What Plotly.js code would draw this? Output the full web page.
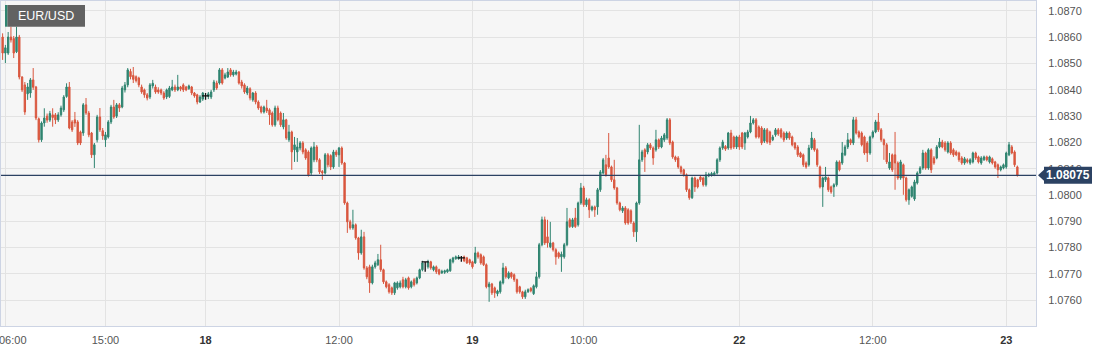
<!DOCTYPE html>
<html>
<head>
<meta charset="utf-8">
<script src="https://cdn.plot.ly/plotly-3.0.1.min.js"></script>
<style>
  html, body { margin: 0; padding: 0; background: #ffffff; }
  #chart { width: 1107px; height: 352px; }
</style>
</head>
<body>
<div id="chart"></div>
<script>
// ---- data: EUR/USD 15-minute candles, index 0 = 17th 05:45 ----
const symbol = 'EUR/USD';

const openP = [
1.08601,1.08540,1.08540,1.08601,1.08595,1.08545,1.08601,1.08449,1.08419,1.08385,
1.08388,1.08438,1.08411,1.08290,1.08210,1.08274,1.08300,1.08285,1.08305,1.08305,
1.08286,1.08305,1.08324,1.08375,1.08411,1.08278,1.08286,1.08278,1.08240,1.08236,
1.08343,1.08312,1.08236,1.08153,1.08210,1.08297,1.08245,1.08210,1.08221,1.08278,
1.08335,1.08300,1.08343,1.08335,1.08400,1.08419,1.08470,1.08455,1.08450,1.08445,
1.08411,1.08400,1.08381,1.08373,1.08415,1.08411,1.08400,1.08400,1.08388,1.08373,
1.08375,1.08400,1.08411,1.08400,1.08411,1.08419,1.08411,1.08405,1.08411,1.08388,
1.08381,1.08354,1.08365,1.08377,1.08375,1.08373,1.08400,1.08426,1.08426,1.08476,
1.08445,1.08449,1.08476,1.08457,1.08460,1.08468,1.08430,1.08419,1.08388,1.08404,
1.08362,1.08388,1.08354,1.08335,1.08316,1.08331,1.08324,1.08312,1.08267,1.08331,
1.08312,1.08259,1.08286,1.08210,1.08240,1.08172,1.08164,1.08179,1.08198,1.08172,
1.08164,1.08084,1.08134,1.08183,1.08134,1.08090,1.08084,1.08153,1.08150,1.08107,
1.08164,1.08153,1.08179,1.08122,1.07970,1.07898,1.07875,1.07887,1.07837,1.07780,
1.07841,1.07723,1.07727,1.07666,1.07727,1.07735,1.07754,1.07716,1.07670,1.07659,
1.07647,1.07628,1.07647,1.07651,1.07678,1.07651,1.07685,1.07651,1.07678,1.07666,
1.07685,1.07716,1.07746,1.07727,1.07746,1.07716,1.07727,1.07716,1.07704,1.07706,
1.07708,1.07712,1.07746,1.07758,1.07758,1.07761,1.07765,1.07761,1.07754,1.07746,
1.07742,1.07780,1.07773,1.07765,1.07735,1.07651,1.07662,1.07647,1.07625,1.07632,
1.07666,1.07723,1.07685,1.07704,1.07697,1.07678,1.07651,1.07632,1.07613,1.07632,
1.07645,1.07625,1.07651,1.07689,1.07811,1.07906,1.07841,1.07803,1.07818,1.07792,
1.07780,1.07765,1.07765,1.07811,1.07906,1.07880,1.07913,1.07887,1.07970,1.08027,
1.07963,1.07982,1.07944,1.07955,1.07955,1.08020,1.08084,1.08115,1.08141,1.08107,
1.08058,1.08027,1.07970,1.07940,1.07951,1.07944,1.07940,1.07894,1.07860,1.07970,
1.08134,1.08172,1.08164,1.08191,1.08179,1.08172,1.08210,1.08183,1.08210,1.08217,
1.08286,1.08202,1.08145,1.08141,1.08107,1.08096,1.08077,1.08020,1.07990,1.08065,
1.08058,1.08069,1.08065,1.08039,1.08073,1.08075,1.08077,1.08084,1.08134,1.08179,
1.08185,1.08179,1.08236,1.08221,1.08183,1.08221,1.08236,1.08198,1.08221,1.08240,
1.08274,1.08286,1.08259,1.08255,1.08205,1.08248,1.08240,1.08210,1.08229,1.08248,
1.08248,1.08236,1.08217,1.08236,1.08221,1.08198,1.08183,1.08160,1.08153,1.08122,
1.08115,1.08179,1.08210,1.08172,1.08107,1.08031,1.08058,1.08065,1.08031,1.08031,
1.08039,1.08126,1.08122,1.08153,1.08183,1.08210,1.08198,1.08286,1.08240,1.08236,
1.08221,1.08198,1.08160,1.08221,1.08240,1.08278,1.08248,1.08210,1.08191,1.08103,
1.08153,1.08153,1.08122,1.08065,1.08115,1.08065,1.07982,1.07995,1.07985,1.08046,
1.08084,1.08103,1.08160,1.08103,1.08172,1.08141,1.08141,1.08183,1.08202,1.08198,
1.08164,1.08198,1.08172,1.08164,1.08160,1.08141,1.08122,1.08134,1.08122,1.08126,
1.08160,1.08145,1.08122,1.08134,1.08145,1.08126,1.08138,1.08126,1.08115,1.08096,
1.08103,1.08107,1.08153,1.08183,1.08164,1.08107
];

const highP = [
1.08615,1.08571,1.08620,1.08640,1.08605,1.08640,1.08609,1.08452,1.08430,1.08426,
1.08445,1.08483,1.08415,1.08295,1.08280,1.08330,1.08310,1.08320,1.08330,1.08312,
1.08315,1.08340,1.08380,1.08425,1.08430,1.08285,1.08316,1.08285,1.08245,1.08350,
1.08369,1.08320,1.08240,1.08198,1.08305,1.08331,1.08255,1.08240,1.08285,1.08343,
1.08362,1.08350,1.08350,1.08415,1.08430,1.08483,1.08480,1.08487,1.08455,1.08450,
1.08420,1.08405,1.08388,1.08426,1.08438,1.08420,1.08410,1.08405,1.08395,1.08405,
1.08415,1.08438,1.08420,1.08457,1.08415,1.08425,1.08415,1.08420,1.08415,1.08392,
1.08385,1.08380,1.08392,1.08388,1.08392,1.08400,1.08438,1.08435,1.08483,1.08483,
1.08465,1.08483,1.08483,1.08476,1.08476,1.08472,1.08438,1.08425,1.08415,1.08410,
1.08392,1.08395,1.08360,1.08340,1.08340,1.08362,1.08330,1.08318,1.08340,1.08340,
1.08318,1.08312,1.08290,1.08267,1.08245,1.08221,1.08217,1.08205,1.08205,1.08178,
1.08170,1.08185,1.08202,1.08190,1.08140,1.08095,1.08160,1.08160,1.08155,1.08172,
1.08172,1.08183,1.08185,1.08126,1.07975,1.07906,1.07944,1.07892,1.07841,1.07868,
1.07860,1.07730,1.07735,1.07735,1.07750,1.07776,1.07811,1.07720,1.07675,1.07665,
1.07652,1.07670,1.07672,1.07675,1.07689,1.07685,1.07690,1.07675,1.07685,1.07690,
1.07720,1.07750,1.07746,1.07754,1.07750,1.07732,1.07732,1.07720,1.07716,1.07716,
1.07720,1.07758,1.07765,1.07770,1.07772,1.07768,1.07770,1.07765,1.07758,1.07750,
1.07803,1.07785,1.07778,1.07770,1.07740,1.07670,1.07666,1.07652,1.07640,1.07675,
1.07742,1.07730,1.07710,1.07708,1.07702,1.07682,1.07655,1.07636,1.07640,1.07645,
1.07650,1.07660,1.07708,1.07818,1.07918,1.07918,1.07906,1.07898,1.07822,1.07798,
1.07785,1.07785,1.07818,1.07951,1.07913,1.07913,1.07951,1.07975,1.08046,1.08035,
1.07990,1.07988,1.07960,1.07960,1.08027,1.08095,1.08141,1.08153,1.08236,1.08112,
1.08134,1.08031,1.07975,1.07958,1.07958,1.07950,1.07946,1.07900,1.07975,1.08267,
1.08172,1.08178,1.08198,1.08198,1.08185,1.08248,1.08215,1.08225,1.08236,1.08293,
1.08293,1.08207,1.08150,1.08148,1.08112,1.08100,1.08082,1.08025,1.08070,1.08070,
1.08062,1.08075,1.08070,1.08088,1.08085,1.08088,1.08090,1.08140,1.08185,1.08210,
1.08190,1.08240,1.08248,1.08226,1.08226,1.08229,1.08240,1.08240,1.08248,1.08301,
1.08293,1.08293,1.08265,1.08262,1.08255,1.08255,1.08245,1.08229,1.08255,1.08255,
1.08255,1.08242,1.08242,1.08242,1.08226,1.08202,1.08190,1.08165,1.08158,1.08128,
1.08191,1.08240,1.08217,1.08178,1.08112,1.08070,1.08107,1.08070,1.08036,1.08045,
1.08132,1.08132,1.08202,1.08191,1.08236,1.08215,1.08297,1.08297,1.08246,1.08242,
1.08226,1.08205,1.08226,1.08246,1.08286,1.08312,1.08255,1.08215,1.08198,1.08160,
1.08158,1.08240,1.08128,1.08134,1.08120,1.08070,1.08025,1.08036,1.08058,1.08090,
1.08110,1.08172,1.08165,1.08178,1.08178,1.08148,1.08190,1.08217,1.08210,1.08205,
1.08205,1.08205,1.08178,1.08170,1.08165,1.08148,1.08145,1.08140,1.08140,1.08165,
1.08165,1.08150,1.08148,1.08150,1.08150,1.08150,1.08143,1.08130,1.08120,1.08112,
1.08120,1.08165,1.08202,1.08190,1.08170,1.08112
];

const lowP = [
1.08514,1.08502,1.08533,1.08580,1.08521,1.08540,1.08440,1.08392,1.08305,1.08362,
1.08370,1.08400,1.08285,1.08200,1.08202,1.08260,1.08275,1.08278,1.08260,1.08270,
1.08278,1.08298,1.08316,1.08370,1.08250,1.08240,1.08259,1.08190,1.08190,1.08225,
1.08305,1.08220,1.08141,1.08103,1.08200,1.08240,1.08210,1.08183,1.08215,1.08270,
1.08290,1.08293,1.08316,1.08330,1.08390,1.08410,1.08440,1.08426,1.08428,1.08410,
1.08385,1.08370,1.08360,1.08365,1.08405,1.08385,1.08385,1.08380,1.08362,1.08365,
1.08369,1.08395,1.08392,1.08395,1.08395,1.08392,1.08395,1.08400,1.08380,1.08370,
1.08345,1.08350,1.08358,1.08362,1.08365,1.08365,1.08392,1.08400,1.08420,1.08420,
1.08440,1.08445,1.08450,1.08450,1.08455,1.08420,1.08405,1.08385,1.08380,1.08360,
1.08355,1.08345,1.08324,1.08310,1.08310,1.08312,1.08267,1.08260,1.08260,1.08280,
1.08259,1.08250,1.08210,1.08202,1.08096,1.08126,1.08126,1.08170,1.08155,1.08134,
1.08070,1.08075,1.08125,1.08125,1.08080,1.08058,1.08078,1.08105,1.08095,1.08100,
1.08145,1.08107,1.08115,1.07963,1.07856,1.07868,1.07868,1.07830,1.07754,1.07773,
1.07716,1.07680,1.07628,1.07660,1.07720,1.07730,1.07708,1.07662,1.07645,1.07625,
1.07620,1.07620,1.07640,1.07645,1.07645,1.07645,1.07640,1.07645,1.07652,1.07660,
1.07680,1.07710,1.07708,1.07720,1.07716,1.07710,1.07700,1.07695,1.07700,1.07700,
1.07704,1.07708,1.07740,1.07754,1.07754,1.07746,1.07745,1.07738,1.07735,1.07720,
1.07738,1.07758,1.07735,1.07730,1.07645,1.07594,1.07620,1.07609,1.07615,1.07625,
1.07660,1.07682,1.07680,1.07682,1.07670,1.07625,1.07625,1.07605,1.07605,1.07628,
1.07630,1.07620,1.07645,1.07682,1.07805,1.07810,1.07800,1.07798,1.07785,1.07735,
1.07758,1.07708,1.07758,1.07805,1.07875,1.07875,1.07875,1.07880,1.07963,1.07955,
1.07955,1.07913,1.07938,1.07917,1.07925,1.08012,1.08078,1.08070,1.08100,1.08050,
1.08020,1.07963,1.07938,1.07932,1.07887,1.07887,1.07890,1.07841,1.07822,1.07963,
1.08126,1.08088,1.08155,1.08172,1.08115,1.08165,1.08175,1.08178,1.08202,1.08210,
1.08190,1.08138,1.08126,1.08100,1.08080,1.08070,1.08012,1.07982,1.07985,1.08012,
1.08025,1.08050,1.08032,1.08032,1.08068,1.08070,1.08072,1.08078,1.08126,1.08172,
1.08168,1.08172,1.08172,1.08175,1.08175,1.08172,1.08175,1.08172,1.08215,1.08235,
1.08268,1.08215,1.08215,1.08190,1.08198,1.08195,1.08190,1.08205,1.08222,1.08225,
1.08215,1.08202,1.08210,1.08210,1.08185,1.08172,1.08145,1.08141,1.08107,1.08100,
1.08108,1.08172,1.08165,1.08107,1.08025,1.07955,1.08050,1.08012,1.08005,1.07993,
1.08032,1.08090,1.08115,1.08148,1.08175,1.08190,1.08190,1.08230,1.08215,1.08185,
1.08153,1.08126,1.08153,1.08215,1.08235,1.08240,1.08202,1.08134,1.08118,1.08096,
1.08088,1.08020,1.08058,1.08058,1.08001,1.07975,1.07963,1.07990,1.07978,1.08040,
1.08080,1.08096,1.08096,1.08096,1.08084,1.08115,1.08136,1.08178,1.08178,1.08165,
1.08158,1.08153,1.08145,1.08148,1.08126,1.08115,1.08115,1.08120,1.08115,1.08120,
1.08134,1.08120,1.08115,1.08130,1.08128,1.08120,1.08116,1.08100,1.08065,1.08090,
1.08098,1.08100,1.08148,1.08155,1.08107,1.08070
];

const closeP = [
1.08540,1.08560,1.08601,1.08590,1.08540,1.08601,1.08449,1.08400,1.08316,1.08411,
1.08438,1.08410,1.08293,1.08210,1.08274,1.08293,1.08285,1.08310,1.08295,1.08286,
1.08305,1.08331,1.08373,1.08411,1.08255,1.08248,1.08274,1.08198,1.08198,1.08343,
1.08312,1.08229,1.08153,1.08191,1.08297,1.08248,1.08225,1.08229,1.08278,1.08335,
1.08297,1.08343,1.08331,1.08407,1.08419,1.08476,1.08450,1.08440,1.08435,1.08419,
1.08392,1.08381,1.08369,1.08419,1.08425,1.08392,1.08392,1.08388,1.08369,1.08400,
1.08407,1.08411,1.08400,1.08411,1.08403,1.08400,1.08400,1.08415,1.08388,1.08377,
1.08354,1.08373,1.08388,1.08377,1.08385,1.08392,1.08430,1.08407,1.08476,1.08426,
1.08457,1.08468,1.08457,1.08468,1.08468,1.08426,1.08415,1.08392,1.08407,1.08369,
1.08388,1.08354,1.08331,1.08316,1.08335,1.08320,1.08305,1.08267,1.08331,1.08286,
1.08267,1.08286,1.08217,1.08240,1.08164,1.08191,1.08183,1.08198,1.08164,1.08141,
1.08077,1.08179,1.08183,1.08134,1.08088,1.08084,1.08153,1.08115,1.08107,1.08164,
1.08153,1.08179,1.08122,1.07970,1.07898,1.07875,1.07887,1.07837,1.07780,1.07841,
1.07723,1.07689,1.07666,1.07727,1.07742,1.07754,1.07716,1.07670,1.07651,1.07632,
1.07628,1.07666,1.07666,1.07666,1.07651,1.07678,1.07647,1.07670,1.07659,1.07685,
1.07716,1.07742,1.07746,1.07746,1.07723,1.07727,1.07708,1.07700,1.07710,1.07712,
1.07716,1.07754,1.07761,1.07765,1.07765,1.07761,1.07750,1.07742,1.07742,1.07727,
1.07780,1.07765,1.07742,1.07735,1.07651,1.07662,1.07628,1.07628,1.07635,1.07670,
1.07723,1.07689,1.07704,1.07689,1.07678,1.07632,1.07632,1.07613,1.07632,1.07640,
1.07636,1.07655,1.07689,1.07811,1.07906,1.07818,1.07818,1.07818,1.07792,1.07765,
1.07765,1.07775,1.07811,1.07898,1.07880,1.07906,1.07880,1.07970,1.08027,1.07963,
1.07982,1.07944,1.07955,1.07944,1.08020,1.08088,1.08134,1.08077,1.08107,1.08058,
1.08027,1.07970,1.07944,1.07951,1.07894,1.07894,1.07898,1.07860,1.07970,1.08134,
1.08164,1.08145,1.08191,1.08179,1.08141,1.08210,1.08183,1.08217,1.08229,1.08286,
1.08198,1.08145,1.08134,1.08107,1.08088,1.08077,1.08020,1.07990,1.08065,1.08031,
1.08031,1.08058,1.08039,1.08077,1.08079,1.08082,1.08084,1.08134,1.08179,1.08202,
1.08175,1.08236,1.08179,1.08183,1.08221,1.08183,1.08183,1.08236,1.08240,1.08274,
1.08286,1.08221,1.08221,1.08198,1.08248,1.08202,1.08200,1.08221,1.08248,1.08232,
1.08221,1.08210,1.08236,1.08217,1.08191,1.08179,1.08153,1.08145,1.08115,1.08107,
1.08179,1.08217,1.08172,1.08115,1.08031,1.08065,1.08069,1.08020,1.08012,1.08039,
1.08126,1.08096,1.08160,1.08183,1.08210,1.08198,1.08286,1.08236,1.08221,1.08191,
1.08160,1.08160,1.08221,1.08240,1.08278,1.08248,1.08210,1.08191,1.08126,1.08126,
1.08096,1.08122,1.08065,1.08126,1.08065,1.07982,1.08020,1.08031,1.08050,1.08084,
1.08103,1.08160,1.08103,1.08172,1.08096,1.08122,1.08183,1.08202,1.08183,1.08172,
1.08198,1.08160,1.08153,1.08153,1.08134,1.08122,1.08138,1.08126,1.08134,1.08160,
1.08141,1.08126,1.08141,1.08145,1.08134,1.08145,1.08122,1.08107,1.08096,1.08107,
1.08115,1.08160,1.08191,1.08160,1.08115,1.08075
];

// candles whose open equals close (drawn as black crosses)
const dojiIdx = [73, 152, 165];

// time axis labels (candle index -> label)
const tickIdx  = [1, 37, 73, 121, 169, 209, 265, 313, 361];
const tickText = ['06:00', '15:00', '18', '12:00', '19', '10:00', '22', '12:00', '23'];
const tickIsDate = [false, false, true, false, true, false, true, false, true];

// ---- styling ----
const GREEN = '#2f8470';
const RED = '#d9573f';
const NAVY = '#2c4263';
const W = 1107, H = 352;
const M = { l: 1, r: 71, t: 1, b: 26 };
const plotW = W - M.l - M.r;
const plotH = H - M.t - M.b;
const pxX = px => (px - M.l) / plotW;           // pixel -> paper x
const pxY = py => (H - M.b - py) / plotH;        // pixel -> paper y
const Y_RANGE = [1.07502, 1.08738];
const X_RANGE = [-0.58, 371.7];
const pxPerPrice = plotH / (Y_RANGE[1] - Y_RANGE[0]);
const FONT = '"Liberation Sans", Arial, sans-serif';

const N = closeP.length;
const all = Array.from({ length: N }, (_, i) => i);
const cIdx = all.filter(i => !dojiIdx.includes(i));

const candles = {
  type: 'candlestick',
  x: cIdx,
  open: cIdx.map(i => openP[i]),
  high: cIdx.map(i => highP[i]),
  low: cIdx.map(i => lowP[i]),
  close: cIdx.map(i => closeP[i]),
  increasing: { line: { color: GREEN, width: 1 }, fillcolor: GREEN },
  decreasing: { line: { color: RED, width: 1 }, fillcolor: RED },
  whiskerwidth: 0,
  hoverinfo: 'skip'
};

const dojis = {
  type: 'ohlc',
  x: dojiIdx,
  open: dojiIdx.map(i => openP[i]),
  high: dojiIdx.map(i => highP[i]),
  low: dojiIdx.map(i => lowP[i]),
  close: dojiIdx.map(i => closeP[i]),
  tickwidth: 0.1,
  increasing: { line: { color: '#111111', width: 1.3 } },
  decreasing: { line: { color: '#111111', width: 1.3 } },
  hoverinfo: 'skip'
};

const last = closeP[N - 1];
const tagHalf = 8.5 / pxPerPrice;
const tagX0 = pxX(1044), tagX1 = pxX(1092), tipX = pxX(1038);
const triHalf = 6 / pxPerPrice;

// the first time label sits at the left edge; it is drawn as an annotation shifted inwards
const ticktext = tickText.map((t, i) => {
  if (i === 0) return '';
  return tickIsDate[i] ? '<b><span style="color:#333333">' + t + '</span></b>' : t;
});

const layout = {
  width: W, height: H,
  margin: M,
  paper_bgcolor: '#ffffff',
  plot_bgcolor: '#f6f6f6',
  font: { family: FONT, size: 11, color: '#555555' },
  showlegend: false,
  dragmode: false,
  xaxis: {
    type: 'linear',
    range: X_RANGE,
    tickmode: 'array',
    tickvals: tickIdx,
    ticktext: ticktext,
    showgrid: true, gridcolor: '#e3e3e3', gridwidth: 1,
    zeroline: false,
    showline: true, linecolor: '#cdd4e4', linewidth: 1, mirror: true,
    ticks: '',
    ticklabelstandoff: 4,
    ticklabeloverflow: 'allow',
    tickfont: { size: 11, color: '#555555' },
    rangeslider: { visible: false },
    fixedrange: true
  },
  yaxis: {
    side: 'right',
    range: Y_RANGE,
    tick0: 1.076, dtick: 0.001,
    tickformat: '.4f',
    showgrid: true, gridcolor: '#e3e3e3', gridwidth: 1,
    zeroline: false,
    showline: true, linecolor: '#cdd4e4', linewidth: 1, mirror: true,
    ticks: '',
    ticklabelstandoff: 9,
    tickfont: { size: 11, color: '#555555' },
    fixedrange: true
  },
  shapes: [
    // current price line
    { type: 'line', xref: 'paper', yref: 'y', x0: 0, x1: 1, y0: last, y1: last,
      line: { color: NAVY, width: 1.2 }, layer: 'above' },
    // price tag
    { type: 'rect', xref: 'paper', yref: 'y', x0: tagX0, x1: tagX1,
      y0: last - tagHalf, y1: last + tagHalf,
      fillcolor: NAVY, line: { width: 0 }, layer: 'above' },
    { type: 'path', xref: 'paper', yref: 'y',
      path: 'M ' + tipX + ' ' + last + ' L ' + (tagX0 + 0.0005) + ' ' + (last + triHalf) +
            ' L ' + (tagX0 + 0.0005) + ' ' + (last - triHalf) + ' Z',
      fillcolor: NAVY, line: { width: 0 }, layer: 'above' },
    // symbol label box
    { type: 'rect', xref: 'paper', yref: 'paper', x0: pxX(7.3), x1: pxX(85),
      y0: pxY(26.7), y1: pxY(5), fillcolor: '#626262', line: { width: 0 }, layer: 'above' },
    { type: 'rect', xref: 'paper', yref: 'paper', x0: pxX(5), x1: pxX(7.3),
      y0: pxY(26.7), y1: pxY(5), fillcolor: GREEN, line: { width: 0 }, layer: 'above' }
  ],
  annotations: [
    { xref: 'paper', yref: 'y', x: (tagX0 + tagX1) / 2, y: last,
      text: '<b>' + last.toFixed(5) + '</b>', showarrow: false,
      xanchor: 'center', yanchor: 'middle',
      font: { family: FONT, size: 12, color: '#ffffff' } },
    { xref: 'paper', yref: 'paper', x: pxX(46), y: pxY(16),
      text: symbol, showarrow: false, xanchor: 'center', yanchor: 'middle',
      font: { family: FONT, size: 12.5, color: '#ffffff' } },
    { xref: 'paper', yref: 'paper', x: pxX(13), y: pxY(340),
      text: tickText[0], showarrow: false, xanchor: 'center', yanchor: 'middle',
      font: { family: FONT, size: 11, color: '#555555' } }
  ]
};

Plotly.newPlot('chart', [candles, dojis], layout, { displayModeBar: false, staticPlot: true });
</script>
</body>
</html>
